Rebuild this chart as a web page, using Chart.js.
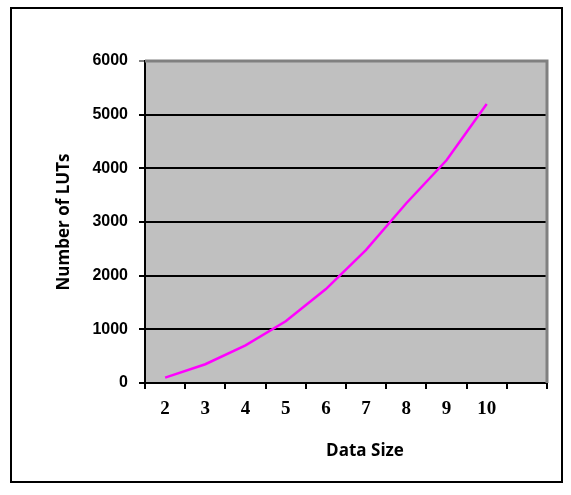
<!DOCTYPE html>
<html>
<head>
<meta charset="utf-8">
<script src="https://cdn.jsdelivr.net/npm/chart.js@4.4.1/dist/chart.umd.min.js"></script>
<style>
    html, body { margin: 0; padding: 0; background: #fff; }
    #wrap { width: 571px; height: 495px; position: relative; }
</style>
</head>
<body>
<div id="wrap"><canvas id="grafico" width="571" height="495"></canvas></div>
<script>
// datos
const categorias = ['2', '3', '4', '5', '6', '7', '8', '9', '10', ''];
const numeroLUTs = [100, 350, 700, 1150, 1750, 2480, 3350, 4150, 5200, null];
const ticksY = [0, 1000, 2000, 3000, 4000, 5000, 6000];
const tituloX = 'Data Size';
const tituloY = 'Number of LUTs';

// fondo gris, marco exterior y titulos
const decoracion = {
    id: 'decoracion',
    beforeDraw(chart) {
        const { ctx, chartArea: a } = chart;
        ctx.save();
        ctx.fillStyle = '#c0c0c0';
        ctx.fillRect(a.left, a.top, a.right - a.left, a.bottom - a.top);
        ctx.strokeStyle = '#000';
        ctx.lineWidth = 2;
        ctx.strokeRect(11, 8, 551, 474);
        ctx.restore();
    },
    afterDraw(chart) {
        const { ctx, chartArea: a } = chart;
        ctx.save();
        // borde superior y derecho gris
        ctx.strokeStyle = '#808080';
        ctx.lineWidth = 3;
        ctx.beginPath();
        ctx.moveTo(a.left, a.top);
        ctx.lineTo(a.right, a.top);
        ctx.lineTo(a.right, a.bottom);
        ctx.stroke();
        ctx.fillStyle = '#000';
        ctx.font = 'bold 17px "Open Sans"';
        ctx.textAlign = 'center';
        ctx.textBaseline = 'middle';
        ctx.fillText(tituloX, 365, 451);
        ctx.translate(64, (a.top + a.bottom) / 2);
        ctx.rotate(-Math.PI / 2);
        ctx.fillText(tituloY, 0, 0);
        ctx.restore();
    }
};

new Chart(document.getElementById('grafico'), {
    type: 'line',
    data: {
        labels: categorias,
        datasets: [{
            data: numeroLUTs,
            borderColor: '#ff00ff',
            borderWidth: 2.5,
            pointRadius: 0,
            tension: 0,
            fill: false
        }]
    },
    options: {
        responsive: false,
        animation: false,
        events: [],
        layout: { padding: { left: 0, top: 61, right: 24, bottom: 0 } },
        plugins: { legend: { display: false }, tooltip: { enabled: false } },
        scales: {
            x: {
                offset: true,
                grid: { offset: true, drawOnChartArea: false, color: '#000', lineWidth: 2, tickLength: 6 },
                border: { color: '#000', width: 2 },
                ticks: { color: '#000', padding: 9, font: { family: '"Liberation Serif"', size: 19, weight: 'bold' } },
                afterFit(scale) { scale.height = 112; }
            },
            y: {
                min: 0,
                max: 6000,
                afterBuildTicks(scale) { scale.ticks = ticksY.map(v => ({ value: v })); },
                grid: {
                    color: (c) => c.tick && c.tick.value === 6000 ? '#808080' : '#000',
                    lineWidth: 2,
                    tickLength: 6
                },
                border: { color: '#000', width: 2 },
                ticks: {
                    color: '#000',
                    padding: 11,
                    font: { family: '"Liberation Sans"', size: 16, weight: 'bold' },
                    callback: (v) => String(v)
                },
                afterFit(scale) { scale.width = 145; }
            }
        }
    },
    plugins: [decoracion]
});
</script>
</body>
</html>
